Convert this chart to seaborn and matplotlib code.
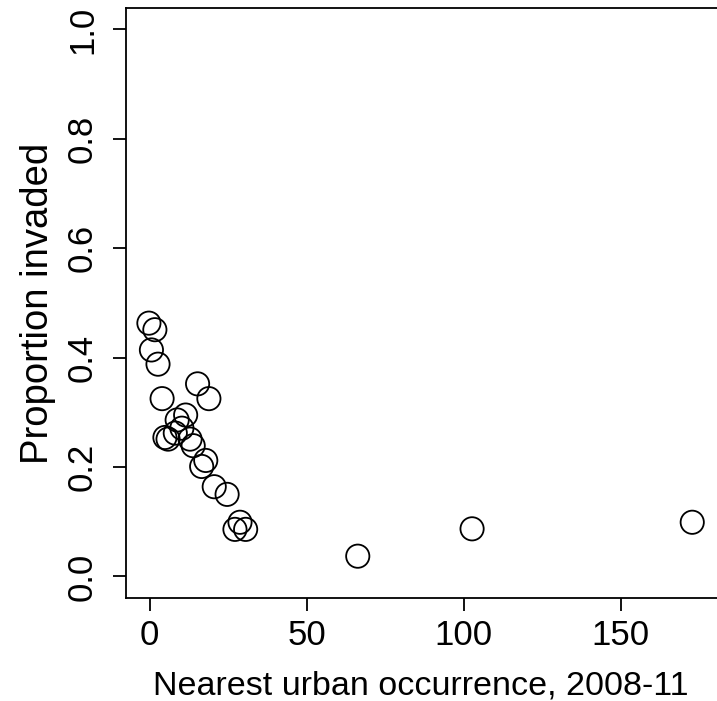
import matplotlib
matplotlib.use("Agg")
import matplotlib.pyplot as plt
import seaborn as sns
import pandas as pd

# distance to nearest urban occurrence vs. proportion of sites invaded
nearest_urban = [-0.2, 1.7, 0.6, 2.7, 4.0, 15.3, 18.9, 11.5, 8.8, 10.3, 8.2, 4.9, 5.9,
                 12.9, 13.9, 17.9, 16.6, 20.6, 24.7, 28.8, 27.2, 30.6, 66.3, 102.7, 172.8]
prop_invaded = [0.463, 0.451, 0.414, 0.388, 0.325, 0.352, 0.325, 0.295, 0.286, 0.271, 0.262,
                0.254, 0.251, 0.251, 0.239, 0.212, 0.201, 0.164, 0.150, 0.099, 0.086, 0.086,
                0.037, 0.087, 0.099]
x_ticks = [0, 50, 100, 150]
y_ticks = [0.0, 0.2, 0.4, 0.6, 0.8, 1.0]
y_ticklabels = ["0.0", "0.2", "0.4", "0.6", "0.8", "1.0"]

df = pd.DataFrame({"dist": nearest_urban, "prop": prop_invaded})

sns.set_style("ticks")
plt.rcParams["font.family"] = ["Liberation Sans", "DejaVu Sans"]
plt.rcParams["text.color"] = "black"
plt.rcParams["axes.labelcolor"] = "black"

fig = plt.figure(figsize=(7.17, 7.01), dpi=100)
# axes run past the right edge of the figure, like the cropped original
ax = fig.add_axes([0.1757, 0.1465, 0.8432, 0.8428])

sns.scatterplot(data=df, x="dist", y="prop", ax=ax, marker="o", s=280,
                facecolors="none", edgecolors="black", linewidth=1.3, zorder=3)

ax.set_xlim(-7.5, 185)
ax.set_ylim(-0.04, 1.04)
ax.set_xticks(x_ticks)
ax.set_yticks(y_ticks)
ax.set_yticklabels(y_ticklabels, rotation=90, va="center")
ax.tick_params(axis="both", direction="out", length=9.5, width=1.3, color="black",
               labelsize=25, labelcolor="black")
ax.tick_params(axis="x", pad=5.5)
ax.tick_params(axis="y", pad=10)
for sp in ax.spines.values():
    sp.set_linewidth(1.3)
    sp.set_color("black")

ax.set_xlabel("Nearest urban occurrence, 2008-11", fontsize=24.5, color="black")
ax.xaxis.set_label_coords(0.488, -0.122)
ax.set_ylabel("Proportion invaded", fontsize=27.5, labelpad=7, color="black")

fig.savefig("out.png", dpi=100)
